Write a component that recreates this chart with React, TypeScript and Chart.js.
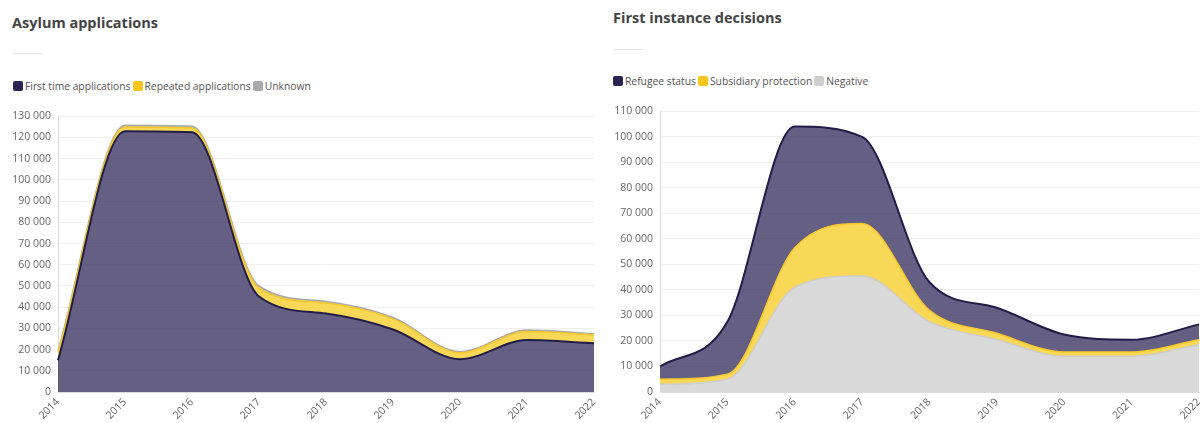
import React, { useEffect, useRef } from "react";
import { Chart, registerables } from "chart.js";

Chart.register(...registerables);

const years = ["2014", "2015", "2016", "2017", "2018", "2019", "2020", "2021", "2022"];

// Asylum applications
const firstTime = [15000, 123000, 122500, 45000, 37000, 29500, 15500, 24500, 23000];
const repeated = [3500, 2000, 2000, 4000, 5000, 5000, 3000, 4000, 4000];
const unknownApps = [1000, 800, 800, 1000, 700, 700, 500, 700, 500];

// First instance decisions
const negative = [3000, 5000, 41000, 45500, 27500, 20500, 14000, 14000, 18500];
const subsidiary = [2000, 2000, 15500, 20500, 4500, 2500, 1700, 1700, 2000];
const refugee = [5000, 20500, 47500, 34000, 11000, 10000, 6800, 4800, 6000];

const FONT = "'Open Sans', 'Noto Sans', sans-serif";
const DARK_LINE = "#221d48";
const DARK_FILL = "rgba(58, 51, 96, 0.78)";
const YELLOW_LINE = "#f6c82a";
const YELLOW_FILL = "#f8d856";
const GRAY_LINE_L = "#a9a9a9";
const GRAY_FILL_L = "#b9b9b9";
const GRAY_LINE_R = "#cdcdcd";
const GRAY_FILL_R = "#d9d9d9";

const fmt = (v: number) => String(v).replace(/\B(?=(\d{3})+(?!\d))/g, " ");

function makeOptions(max: number, yWidth: number, padRight: number) {
  return {
    responsive: false,
    animation: false as const,
    layout: { padding: { left: 0, right: padRight, top: 10, bottom: 0 } },
    plugins: { legend: { display: false }, tooltip: { enabled: false } },
    elements: { point: { radius: 0 } },
    scales: {
      x: {
        grid: { display: false, drawTicks: false },
        border: { display: true, color: "#dddddd" },
        ticks: {
          color: "#666",
          font: { family: FONT, size: 10.5 },
          maxRotation: 45,
          minRotation: 45,
          padding: 4,
          autoSkip: false,
        },
        afterFit: (s: any) => {
          s.height = 31;
          s.paddingRight = 0;
        },
      },
      y: {
        stacked: true,
        min: 0,
        max,
        grid: { color: "#efefef", drawTicks: false },
        border: { display: true, color: "#dddddd" },
        ticks: {
          stepSize: 10000,
          color: "#666",
          font: { family: FONT, size: 10.5 },
          padding: 7,
          callback: (v: any) => fmt(Number(v)),
        },
        afterFit: (s: any) => {
          s.width = yWidth;
        },
      },
    },
  };
}

function ChartCanvas({ config, style }: { config: any; style: React.CSSProperties }) {
  const ref = useRef<HTMLCanvasElement | null>(null);
  useEffect(() => {
    if (!ref.current) return;
    const c = new Chart(ref.current, config);
    return () => c.destroy();
  }, []);
  return (
    <canvas
      ref={ref}
      width={style.width as number}
      height={style.height as number}
      style={{ position: "absolute", ...style }}
    />
  );
}

function Legend({ items, left, top }: { items: { label: string; color: string }[]; left: number; top: number }) {
  return (
    <div
      style={{
        position: "absolute",
        left,
        top,
        display: "flex",
        alignItems: "center",
        fontFamily: FONT,
        fontSize: 10.3,
        color: "#555",
        lineHeight: "14px",
        whiteSpace: "nowrap",
      }}
    >
      {items.map((it) => (
        <span key={it.label} style={{ display: "flex", alignItems: "center", marginRight: 2 }}>
          <span
            style={{
              display: "inline-block",
              width: 10,
              height: 10,
              borderRadius: 2,
              background: it.color,
              marginRight: 2,
            }}
          />
          {it.label}
        </span>
      ))}
    </div>
  );
}

function Title({ text, left, top }: { text: string; left: number; top: number }) {
  return (
    <div
      style={{
        position: "absolute",
        left,
        top,
        fontFamily: FONT,
        fontWeight: 700,
        fontSize: 14.5,
        color: "#444",
        whiteSpace: "nowrap",
        lineHeight: "20px",
      }}
    >
      {text}
    </div>
  );
}

export default function App() {
  const leftConfig = {
    type: "line",
    data: {
      labels: years,
      datasets: [
        {
          label: "First time applications",
          data: firstTime,
          borderColor: DARK_LINE,
          backgroundColor: DARK_FILL,
          borderWidth: 2,
          fill: "origin",
          cubicInterpolationMode: "monotone",
        },
        {
          label: "Repeated applications",
          data: repeated,
          borderColor: YELLOW_LINE,
          backgroundColor: YELLOW_FILL,
          borderWidth: 1.5,
          fill: "-1",
          cubicInterpolationMode: "monotone",
        },
        {
          label: "Unknown",
          data: unknownApps,
          borderColor: GRAY_LINE_L,
          backgroundColor: GRAY_FILL_L,
          borderWidth: 1.5,
          fill: "-1",
          cubicInterpolationMode: "monotone",
        },
      ],
    },
    options: makeOptions(130000, 58, 6),
  };

  const rightConfig = {
    type: "line",
    data: {
      labels: years,
      datasets: [
        {
          label: "Negative",
          data: negative,
          borderColor: GRAY_LINE_R,
          backgroundColor: GRAY_FILL_R,
          borderWidth: 1.5,
          fill: "origin",
          cubicInterpolationMode: "monotone",
        },
        {
          label: "Subsidiary protection",
          data: subsidiary,
          borderColor: YELLOW_LINE,
          backgroundColor: YELLOW_FILL,
          borderWidth: 1.5,
          fill: "-1",
          cubicInterpolationMode: "monotone",
        },
        {
          label: "Refugee status",
          data: refugee,
          borderColor: DARK_LINE,
          backgroundColor: DARK_FILL,
          borderWidth: 2,
          fill: "-1",
          cubicInterpolationMode: "monotone",
        },
      ],
    },
    options: makeOptions(110000, 60, 1),
  };

  return (
    <div
      style={{
        position: "fixed",
        left: 0,
        top: 0,
        width: 1200,
        height: 423,
        background: "#fff",
        overflow: "hidden",
      }}
    >
      <Title text="Asylum applications" left={12} top={13} />
      <div style={{ position: "absolute", left: 13, top: 53, width: 29, height: 1, background: "#e3e3e3" }} />
      <Legend
        left={13}
        top={79}
        items={[
          { label: "First time applications", color: "#2a2452" },
          { label: "Repeated applications", color: "#f7c51e" },
          { label: "Unknown", color: "#a9a9a9" },
        ]}
      />
      <ChartCanvas config={leftConfig} style={{ left: 0, top: 103, width: 600, height: 320 }} />

      <Title text="First instance decisions" left={613} top={8} />
      <div style={{ position: "absolute", left: 614, top: 49, width: 29, height: 1, background: "#e3e3e3" }} />
      <Legend
        left={613}
        top={74}
        items={[
          { label: "Refugee status", color: "#2a2452" },
          { label: "Subsidiary protection", color: "#f7c51e" },
          { label: "Negative", color: "#cfcfcf" },
        ]}
      />
      <ChartCanvas config={rightConfig} style={{ left: 600, top: 98, width: 600, height: 325 }} />
    </div>
  );
}
